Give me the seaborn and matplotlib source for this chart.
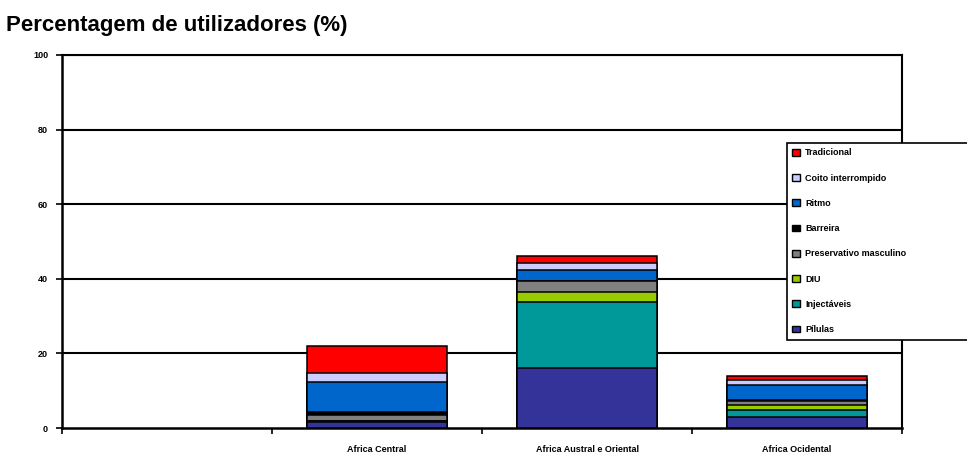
import matplotlib
matplotlib.use("Agg")
import matplotlib.pyplot as plt
from matplotlib.patches import Patch
import numpy as np
import pandas as pd
import seaborn as sns

regions = ["Africa Central", "Africa Austral e Oriental", "Africa Ocidental"]

# contraceptive methods, bottom of the stack first
methods = ["Pílulas", "Injectáveis", "DIU", "Preservativo masculino",
           "Barreira", "Ritmo", "Coito interrompido", "Tradicional"]

pilulas = [1.6, 16.0, 2.9]
injectaveis = [0.3, 17.9, 2.0]
diu = [0.0, 2.5, 1.2]
preservativo = [1.6, 3.0, 1.2]
barreira = [0.7, 0.1, 0.1]
ritmo = [8.1, 2.8, 4.1]
coito = [2.4, 2.0, 1.3]
tradicional = [7.4, 1.8, 1.2]

colors = ["#333399", "#009999", "#99CC00", "#808080",
          "#000000", "#0066CC", "#CCCCFF", "#FF0000"]

y_ticks = [0, 20, 40, 60, 80, 100]

series = [pilulas, injectaveis, diu, preservativo, barreira, ritmo, coito, tradicional]
df = pd.DataFrame({m: v for m, v in zip(methods, series)}, index=regions)
cum = df.cumsum(axis=1)

sns.set_theme(style="white")
plt.rcParams["font.family"] = ["Liberation Sans", "DejaVu Sans"]
plt.rcParams["font.weight"] = "bold"
for key in ("text.color", "axes.labelcolor", "xtick.color", "ytick.color"):
    plt.rcParams[key] = "black"

fig = plt.figure(figsize=(9.67, 4.54), dpi=100)
ax = fig.add_axes([62 / 967, 1 - 428 / 454, (902 - 62) / 967, (428 - 55) / 454])

# draw cumulative totals from the top layer down so each layer shows
for m, c in zip(reversed(methods), reversed(colors)):
    tmp = pd.DataFrame({"region": regions, "value": cum[m].values})
    sns.barplot(data=tmp, x="region", y="value", order=regions, color=c,
                width=0.667, edgecolor="black", linewidth=1.1,
                saturation=1, ax=ax, zorder=3)

ax.set_xlim(-1.5, 2.5)
ax.set_ylim(0, 100)
ax.set_yticks(y_ticks)
ax.set_yticklabels([str(t) for t in y_ticks], fontsize=6.5, fontweight="bold")
for t in y_ticks[1:]:
    ax.axhline(t, color="black", lw=1.5, zorder=1)

ax.set_xticks(range(len(regions)))
ax.set_xticklabels(regions, fontsize=6.5, fontweight="bold")
ax.set_xticks(np.arange(-1.5, 2.6, 1.0), minor=True)
ax.tick_params(axis="x", which="major", length=0, pad=12)
ax.tick_params(axis="x", which="minor", length=4, width=1.2, color="black",
               direction="out", bottom=True)
ax.tick_params(axis="y", length=4, width=1.2, color="black", direction="out",
               left=True, pad=6)
ax.set_xlabel("")
ax.set_ylabel("")

for side, sp in ax.spines.items():
    sp.set_visible(True)
    sp.set_color("black")
    sp.set_linewidth(1.8 if side in ("left", "bottom") else 1.5)

fig.text(6 / 967, 1 - 25 / 454, "Percentagem de utilizadores (%)",
         fontsize=16, fontweight="bold", va="center", ha="left", color="black")

handles = [Patch(facecolor=c, edgecolor="black", linewidth=1.0)
           for c in reversed(colors)]
leg = fig.legend(handles, list(reversed(methods)), loc="upper left",
                 bbox_to_anchor=(787 / 967, 1 - 143 / 454, 0.22, 0),
                 mode="expand",
                 prop={"weight": "bold", "size": 6.5},
                 frameon=True, fancybox=False, shadow=False, framealpha=1,
                 handlelength=0.8, handleheight=0.8, handletextpad=0.6,
                 labelspacing=1.8, borderpad=0.6, borderaxespad=0)
leg.get_frame().set_edgecolor("black")
leg.get_frame().set_linewidth(1.2)
leg.get_frame().set_facecolor("white")
for txt in leg.get_texts():
    txt.set_color("black")

fig.savefig("out.png", dpi=100)
